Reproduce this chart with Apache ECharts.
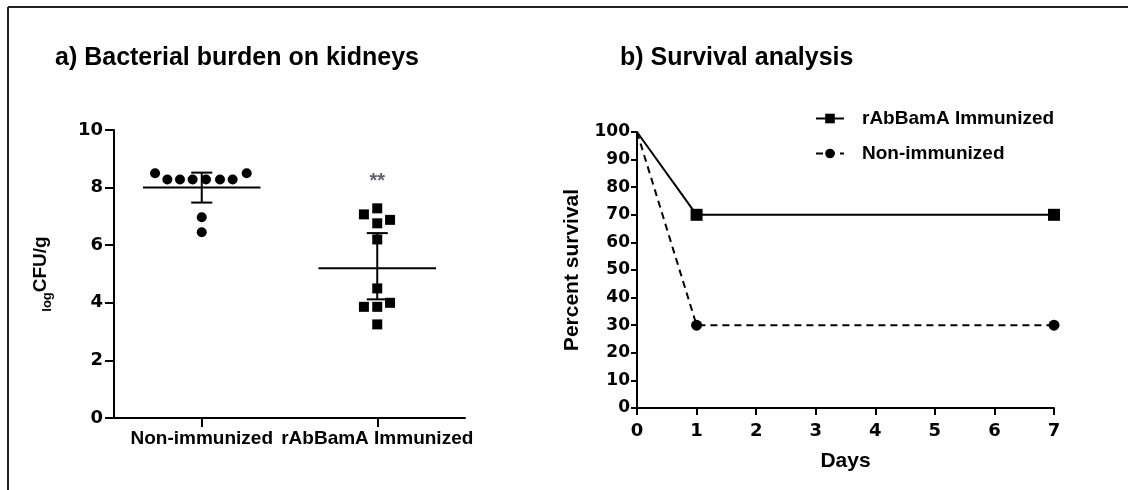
<!DOCTYPE html>
<html><head><meta charset="utf-8">
<script src="https://cdn.jsdelivr.net/npm/echarts@6/dist/echarts.min.js"></script>
<style>html,body{margin:0;padding:0;background:#fff}#c{width:1128px;height:490px}</style>
</head><body><div id="c"></div>
<script>
// ---- data (panel a) ----
const groups = ['Non-immunized', 'rAbBamA Immunized'];
const nonImmValues = [8.5, 8.28, 8.28, 8.28, 8.28, 8.28, 8.28, 8.5, 6.97, 6.45];
const nonImmJitter = [-0.266, -0.196, -0.124, -0.052, 0.024, 0.104, 0.176, 0.256, 0, 0];
const immValues = [7.28, 7.07, 6.88, 6.76, 6.2, 4.5, 4.0, 3.86, 3.86, 3.25];
const immJitter = [0, -0.076, 0.073, 0, 0, 0, 0.073, -0.076, 0, 0];
const groupMeans = [8.0, 5.2];
const groupUpper = [8.52, 6.42];
const groupLower = [7.48, 4.12];
const sigLabel = '**';
const sigValue = 8.2;
// ---- data (panel b) ----
const days = [0, 1, 7];
const survivalImm = [100, 70, 70];
const survivalNon = [100, 30, 30];
const seriesNames = ['rAbBamA Immunized', 'Non-immunized'];

const BLACK = '#000';
const tickFont = {fontFamily: 'DejaVu Sans', fontWeight: 'bold', fontSize: 18, color: BLACK};

const chart = echarts.init(document.getElementById('c'), null, {renderer: 'canvas'});

const pointsNon = nonImmValues.map((v, i) => [0.5 + nonImmJitter[i], v]);
const pointsImm = immValues.map((v, i) => [1.5 + immJitter[i], v]);
const meanData = groupMeans.map((m, i) => [i, m, groupUpper[i], groupLower[i]]);

function renderMean(params, api) {
  const idx = api.value(0);
  const c = api.coord([idx, api.value(1)]);
  const up = api.coord([idx, api.value(2)]);
  const lo = api.coord([idx, api.value(3)]);
  const band = api.size([1, 0])[0];
  const hw = band * 0.335, cw = band * 0.06;
  const st = {stroke: BLACK, lineWidth: 2};
  return {
    type: 'group',
    children: [
      {type: 'line', shape: {x1: c[0] - hw, y1: c[1], x2: c[0] + hw, y2: c[1]}, style: st},
      {type: 'line', shape: {x1: c[0], y1: up[1], x2: c[0], y2: lo[1]}, style: st},
      {type: 'line', shape: {x1: c[0] - cw, y1: up[1], x2: c[0] + cw, y2: up[1]}, style: st},
      {type: 'line', shape: {x1: c[0] - cw, y1: lo[1], x2: c[0] + cw, y2: lo[1]}, style: st}
    ]
  };
}

const axisLine = {show: true, lineStyle: {color: BLACK, width: 2}};

const option = {
  animation: false,
  backgroundColor: '#fff',
  title: [
    {text: 'a) Bacterial burden on kidneys', left: 50, top: 41,
     textStyle: {fontFamily: 'Liberation Sans', fontWeight: 'bold', fontSize: 25, color: BLACK}},
    {text: 'b) Survival analysis', left: 615, top: 41,
     textStyle: {fontFamily: 'Liberation Sans', fontWeight: 'bold', fontSize: 25, color: BLACK}}
  ],
  graphic: [
    {type: 'line', shape: {x1: 8, y1: 7, x2: 1128, y2: 7}, style: {stroke: '#222', lineWidth: 2}},
    {type: 'line', shape: {x1: 8, y1: 7, x2: 8, y2: 490}, style: {stroke: '#222', lineWidth: 2}}
  ],
  legend: {
    left: 810, top: 104, orient: 'vertical', itemGap: 16,
    itemWidth: 28, itemHeight: 12,
    data: seriesNames,
    textStyle: {fontFamily: 'Liberation Sans', fontWeight: 'bold', fontSize: 19, color: BLACK, padding: [0, 0, 0, 13]}
  },
  grid: [
    {left: 114, top: 130, width: 351, height: 288},
    {left: 637, top: 132, width: 417, height: 276}
  ],
  xAxis: [
    {type: 'category', gridIndex: 0, data: groups, boundaryGap: true,
     axisLine: axisLine, axisTick: {show: true, alignWithLabel: true, length: 9, lineStyle: {color: BLACK, width: 2}},
     axisLabel: {interval: 0, fontFamily: 'Liberation Sans', fontWeight: 'bold', fontSize: 19, color: BLACK, margin: 11},
     splitLine: {show: false}},
    {type: 'value', gridIndex: 0, min: 0, max: 2, show: false},
    {type: 'value', gridIndex: 1, min: 0, max: 7, interval: 1,
     axisLine: axisLine, axisTick: {show: true, length: 7, lineStyle: {color: BLACK, width: 2}},
     axisLabel: Object.assign({margin: 14}, tickFont),
     splitLine: {show: false},
     name: 'Days', nameLocation: 'middle', nameGap: 43,
     nameTextStyle: {fontFamily: 'Liberation Sans', fontWeight: 'bold', fontSize: 21, color: BLACK}}
  ],
  yAxis: [
    {type: 'value', gridIndex: 0, min: 0, max: 10, interval: 2,
     axisLine: axisLine, axisTick: {show: true, length: 9, lineStyle: {color: BLACK, width: 2}},
     axisLabel: Object.assign({margin: 11}, tickFont),
     splitLine: {show: false},
     name: '{s|log}{b|CFU/g}', nameLocation: 'middle', nameGap: 64,
     nameTextStyle: {rich: {
       s: {fontFamily: 'Liberation Sans', fontWeight: 'bold', fontSize: 13, color: BLACK, verticalAlign: 'bottom', padding: [0, 0, -4, 0]},
       b: {fontFamily: 'Liberation Sans', fontWeight: 'bold', fontSize: 19, color: BLACK}
     }}},
    {type: 'value', gridIndex: 1, min: 0, max: 100, interval: 10,
     axisLine: axisLine, axisTick: {show: true, length: 6, lineStyle: {color: BLACK, width: 2}},
     axisLabel: Object.assign({margin: 7}, tickFont, {fontSize: 17}),
     splitLine: {show: false},
     name: 'Percent survival', nameLocation: 'middle', nameGap: 54,
     nameTextStyle: {fontFamily: 'Liberation Sans', fontWeight: 'bold', fontSize: 21, color: BLACK}}
  ],
  series: [
    {type: 'scatter', name: 'pts-non', xAxisIndex: 1, yAxisIndex: 0, data: pointsNon,
     symbol: 'circle', symbolSize: 10, itemStyle: {color: BLACK, opacity: 1}, z: 3},
    {type: 'scatter', name: 'pts-imm', xAxisIndex: 1, yAxisIndex: 0, data: pointsImm,
     symbol: 'rect', symbolSize: 10, itemStyle: {color: BLACK, opacity: 1}, z: 3},
    {type: 'custom', name: 'mean', xAxisIndex: 0, yAxisIndex: 0, data: meanData,
     renderItem: renderMean, z: 4},
    {type: 'scatter', name: 'sig', xAxisIndex: 0, yAxisIndex: 0, data: [[1, sigValue]],
     symbolSize: 1, itemStyle: {color: 'rgba(0,0,0,0)'},
     label: {show: true, position: 'inside', formatter: sigLabel,
             fontFamily: 'Liberation Sans', fontWeight: 'bold', fontSize: 20, color: '#343447'}},
    {type: 'line', name: seriesNames[0], xAxisIndex: 2, yAxisIndex: 1,
     data: days.map((d, i) => ({value: [d, survivalImm[i]], symbol: i === 0 ? 'none' : 'rect'})),
     symbol: 'rect', symbolSize: 12, showAllSymbol: true,
     lineStyle: {color: BLACK, width: 2, type: 'solid'}, itemStyle: {color: BLACK}, z: 5},
    {type: 'line', name: seriesNames[1], xAxisIndex: 2, yAxisIndex: 1,
     data: days.map((d, i) => ({value: [d, survivalNon[i]], symbol: i === 0 ? 'none' : 'circle'})),
     symbol: 'circle', symbolSize: 11, showAllSymbol: true,
     lineStyle: {color: BLACK, width: 2, type: [7, 5]}, itemStyle: {color: BLACK}, z: 5}
  ]
};
chart.setOption(option);
</script>
</body></html>
